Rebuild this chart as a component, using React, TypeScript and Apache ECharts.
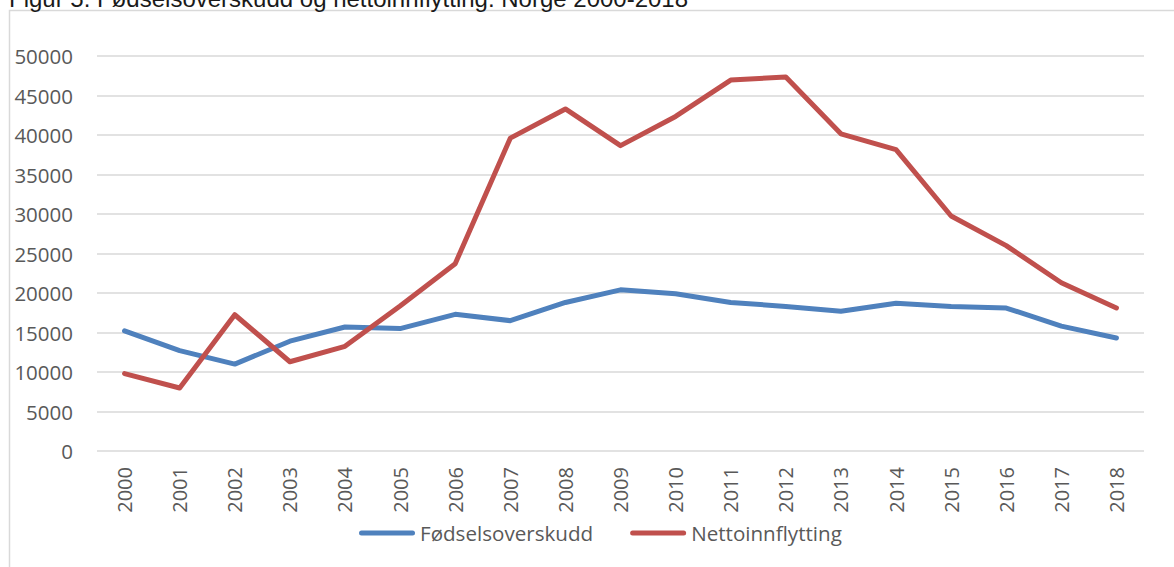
import React, { useEffect, useRef } from "react";
import * as echarts from "echarts";

const years = ["2000","2001","2002","2003","2004","2005","2006","2007","2008","2009","2010","2011","2012","2013","2014","2015","2016","2017","2018"];
const fodselsoverskudd = [15200,12700,11000,13900,15700,15500,17300,16500,18800,20400,19900,18800,18300,17700,18700,18300,18100,15800,14300];
const nettoinnflytting = [9800,7970,17250,11300,13250,18350,23700,39600,43300,38650,42350,46950,47350,40150,38150,29750,26000,21300,18100];
const seriesNames = ["Fødselsoverskudd", "Nettoinnflytting"];
const titleText = "Figur 5. Fødselsoverskudd og nettoinnflytting. Norge 2000-2018";

const pill = "path://M2.5,0H53.5A2.5,2.5,0,0,1,53.5,5H2.5A2.5,2.5,0,0,1,2.5,0Z";

export default function App() {
  const ref = useRef<HTMLDivElement>(null);
  useEffect(() => {
    document.body.style.margin = "0";
    const chart = echarts.init(ref.current!, null, { renderer: "svg" });
    const font = '"Open Sans", sans-serif';
    chart.setOption({
      animation: false,
      backgroundColor: "#ffffff",
      grid: { left: 97, right: 30, top: 56, bottom: 116, containLabel: false },
      legend: {
        left: 359,
        top: 520,
        padding: 0,
        itemWidth: 56,
        itemHeight: 5,
        itemGap: 37,
        icon: pill,
        textStyle: { fontFamily: font, fontSize: 20.6, color: "#595959", lineHeight: 26 },
        data: seriesNames,
      },
      xAxis: {
        type: "category",
        data: years,
        boundaryGap: true,
        axisLine: { show: false },
        axisTick: { show: false },
        axisLabel: { rotate: 90, margin: 16, fontFamily: font, fontSize: 20, color: "#595959" },
      },
      yAxis: {
        type: "value",
        min: 0,
        max: 50000,
        interval: 5000,
        axisLine: { show: false },
        axisTick: { show: false },
        axisLabel: {
          margin: 24,
          fontFamily: font,
          fontSize: 20.5,
          color: "#595959",
          formatter: (v: number) => String(v),
        },
        splitLine: { lineStyle: { color: "#d9d9d9", width: 1.5 } },
      },
      series: [
        {
          name: seriesNames[0],
          type: "line",
          data: fodselsoverskudd,
          symbol: "none",
          color: "#4F81BD",
          lineStyle: { width: 5, color: "#4F81BD", cap: "round", join: "round" },
        },
        {
          name: seriesNames[1],
          type: "line",
          data: nettoinnflytting,
          symbol: "none",
          color: "#C0504D",
          lineStyle: { width: 5, color: "#C0504D", cap: "round", join: "round" },
        },
      ],
      graphic: [
        {
          type: "rect",
          shape: { x: 9.5, y: 10.5, width: 1400, height: 800 },
          style: { fill: "none", stroke: "#d9d9d9", lineWidth: 1.5 },
          silent: true,
        },
        {
          type: "text",
          x: 9,
          y: 10,
          style: {
            text: titleText,
            font: '24px "Liberation Sans", Arial, sans-serif',
            fill: "#1a1a1a",
            textAlign: "left",
            textVerticalAlign: "bottom",
          },
          silent: true,
        },
      ],
    });
    return () => chart.dispose();
  }, []);
  return <div ref={ref} style={{ position: "fixed", left: 0, top: 0, width: 1174, height: 567 }} />;
}
